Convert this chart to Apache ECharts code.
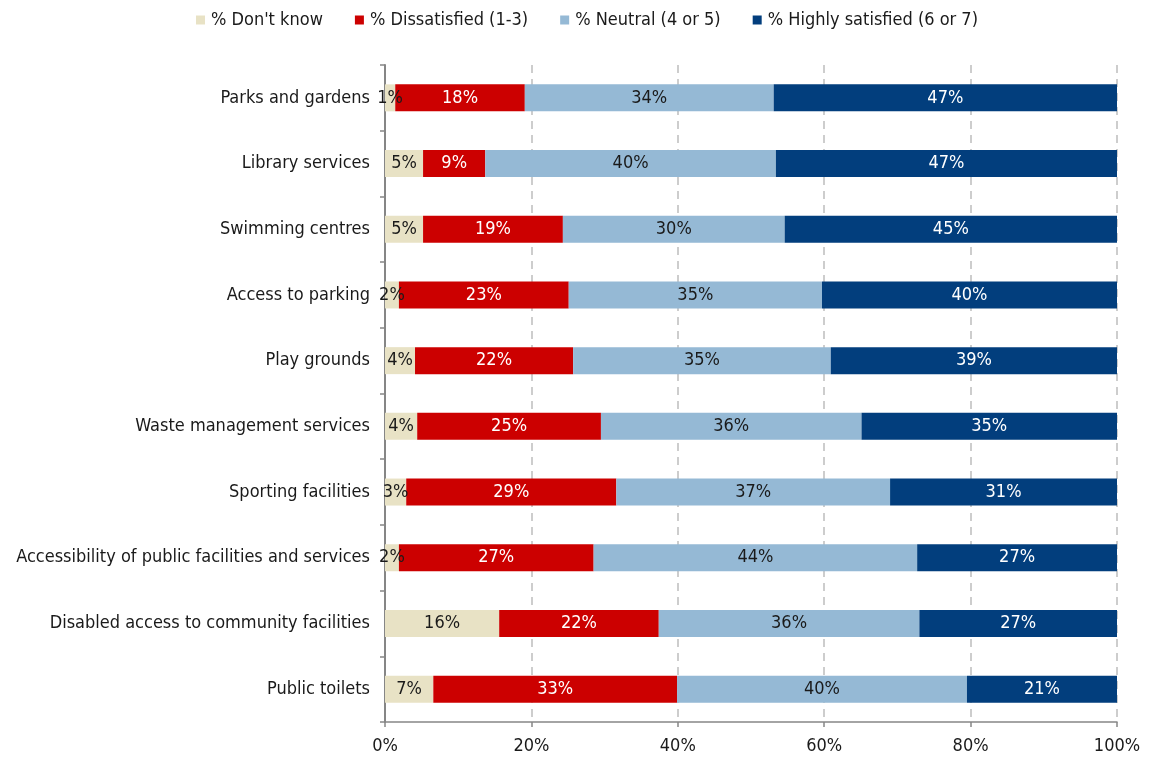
<!DOCTYPE html>
<html>
<head>
<meta charset="utf-8">
<script src="https://cdn.jsdelivr.net/npm/echarts@6/dist/echarts.min.js"></script>
<style>
  html, body { margin: 0; padding: 0; background: #fff; }
  #chart { width: 1151px; height: 758px; }
</style>
</head>
<body>
<div id="chart"></div>
<script>
// Service areas, listed top to bottom
const categories = [
  'Parks and gardens',
  'Library services',
  'Swimming centres',
  'Access to parking',
  'Play grounds',
  'Waste management services',
  'Sporting facilities',
  'Accessibility of public facilities and services',
  'Disabled access to community facilities',
  'Public toilets'
];

// Share of respondents (%) in each rating group
const dontKnow     = [1.4, 5.2, 5.2, 1.9, 4.1, 4.4, 2.9, 1.9, 15.6, 6.6];
const dissatisfied = [17.7, 8.5, 19.1, 23.2, 21.6, 25.1, 28.7, 26.6, 21.8, 33.3];
const neutral      = [34.0, 39.7, 30.3, 34.6, 35.2, 35.6, 37.4, 44.2, 35.6, 39.6];
const highly       = [46.9, 46.6, 45.4, 40.3, 39.1, 34.9, 31.0, 27.3, 27.0, 20.5];

const seriesNames = ["% Don't know", '% Dissatisfied (1-3)', '% Neutral (4 or 5)', '% Highly satisfied (6 or 7)'];
const xTicks = [0, 20, 40, 60, 80, 100];

const FONT = "'DejaVu Sans Condensed', 'Liberation Sans Narrow', sans-serif";
const FS = 18;
const colors = ['#e8e2c5', '#cc0000', '#95b9d5', '#023e7d'];
const labelColors = ['#1a1a1a', '#ffffff', '#1a1a1a', '#ffffff'];
const values = [dontKnow, dissatisfied, neutral, highly];

const chart = echarts.init(document.getElementById('chart'), null, { renderer: 'canvas' });

chart.setOption({
  animation: false,
  textStyle: { fontFamily: FONT },
  legend: {
    top: 6,
    left: 191,
    itemWidth: 9,
    itemHeight: 9,
    itemGap: 32,
    icon: 'rect',
    textStyle: { fontFamily: FONT, fontSize: FS, color: '#1a1a1a', padding: [0, 0, 0, 1] },
    data: seriesNames
  },
  grid: { left: 385, right: 34, top: 65, bottom: 36, containLabel: false },
  xAxis: {
    type: 'value',
    min: xTicks[0],
    max: xTicks[xTicks.length - 1],
    interval: 20,
    axisLine: { show: true, lineStyle: { color: '#868686', width: 1.5 } },
    axisTick: { show: true, length: 5, lineStyle: { color: '#868686', width: 1.5 } },
    axisLabel: {
      margin: 15,
      fontFamily: FONT,
      fontSize: FS,
      color: '#1a1a1a',
      formatter: v => v + '%'
    },
    splitLine: { show: true, lineStyle: { color: '#bdbdbd', type: [8, 6], width: 1.5 } }
  },
  yAxis: {
    type: 'category',
    inverse: true,
    data: categories,
    axisLine: { show: true, lineStyle: { color: '#868686', width: 2 } },
    axisTick: { show: true, length: 5, alignWithLabel: false, lineStyle: { color: '#868686', width: 1.5 } },
    axisLabel: { margin: 15, fontFamily: FONT, fontSize: FS, color: '#1a1a1a' },
    splitLine: { show: false }
  },
  series: seriesNames.map((name, i) => ({
    name: name,
    type: 'bar',
    stack: 'total',
    barWidth: 27,
    data: values[i],
    itemStyle: { color: colors[i] },
    label: {
      show: true,
      position: 'inside',
      fontFamily: FONT,
      fontSize: FS,
      color: labelColors[i],
      formatter: p => Math.round(p.value) + '%'
    },
    emphasis: { disabled: true }
  }))
});
</script>
</body>
</html>
